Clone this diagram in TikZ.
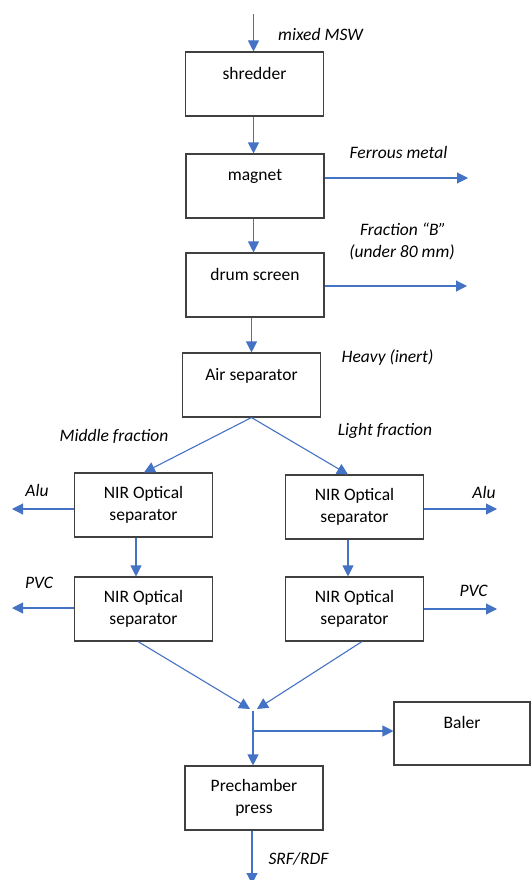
\documentclass[tikz,border=0pt]{standalone}
\usepackage{fontspec}
\setmainfont{Carlito}
\usetikzlibrary{arrows.meta}
\definecolor{flowblue}{HTML}{4472C4}
\definecolor{boxgray}{HTML}{404040}
\begin{document}
\begin{tikzpicture}[x=1pt,y=-1pt,
  box/.style={draw=boxgray,line width=1.1pt,minimum width=138pt,minimum height=64pt,
    inner sep=0pt,align=center,font=\fontsize{17.5}{22}\selectfont},
  lbl/.style={inner sep=0pt,font=\fontsize{17.5}{22}\selectfont\itshape},
  flow/.style={draw=flowblue,line width=1.1pt,-{Triangle[length=11pt,width=11pt]}},
  line/.style={draw=flowblue,line width=1.1pt}]
\useasboundingbox (0,0) rectangle (530,880);
% boxes
\node[box] (shred) at (254.5,84) {shredder\\~};
\node[box] (magnet) at (255,186) {magnet\\~};
\node[box] (drum) at (255,285) {drum screen\\~};
\node[box] (air) at (251.5,385) {Air separator\\~};
\node[box] (nirL1) at (143.5,505) {NIR Optical\\separator};
\node[box] (nirR1) at (354.5,507) {NIR Optical\\separator};
\node[box] (nirL2) at (143.5,609) {NIR Optical\\separator};
\node[box] (nirR2) at (354.5,609) {NIR Optical\\separator};
\node[box,minimum width=136pt,minimum height=63pt] (baler) at (462,733.5) {Baler\\~};
\node[box] (press) at (254,798) {Prechamber\\press};
% free ends
\coordinate (in) at (253.5,14);
\coordinate (ferr) at (468,178);
\coordinate (fracB) at (467,286);
\coordinate (aluL) at (12,509);
\coordinate (aluR) at (497,509);
\coordinate (pvcL) at (12,608);
\coordinate (pvcR) at (497,609);
\coordinate (mL) at (250,709);
\coordinate (mR) at (257,709);
\coordinate (junc) at (253,711);
\coordinate (branch) at (253,731);
\coordinate (out) at (252,884);
% connectors
\draw[flow] (in) -- (in |- shred.north);
\draw[flow] (in |- shred.south) -- (in |- magnet.north);
\draw[flow] (magnet.east |- ferr) -- (ferr);
\draw[flow] (in |- magnet.south) -- (in |- drum.north);
\draw[flow] (drum.east |- fracB) -- (fracB);
\draw[flow] (air.north |- drum.south) -- (air.north);
\draw[flow] (air.south) -- ([xshift=0.5pt]nirL1.north);
\draw[flow] (air.south) -- ([xshift=-6.5pt]nirR1.north);
\draw[flow] (nirL1.west |- aluL) -- (aluL);
\draw[flow] (nirR1.east |- aluR) -- (aluR);
\draw[flow] ([xshift=-7.5pt]nirL1.south) -- ([xshift=-7.5pt]nirL2.north);
\draw[flow] ([xshift=-6.5pt]nirR1.south) -- ([xshift=-6.5pt]nirR2.north);
\draw[flow] (nirL2.west |- pvcL) -- (pvcL);
\draw[flow] (nirR2.east |- pvcR) -- (pvcR);
\draw[flow] ([xshift=-5.5pt]nirL2.south) -- (mL);
\draw[flow] ([xshift=7.5pt]nirR2.south) -- (mR);
\draw[flow] (junc) -- (junc |- press.north);
\draw[flow] (branch) -- (baler.west |- branch);
\draw[flow] (press.south -| out) -- (out);
% labels
\node[lbl] (lMSW) at (320.5,34) {mixed MSW};
\node[lbl] (lFe) at (398.5,152) {Ferrous metal};
\node[lbl] (lB1) at (403,229) {Fraction “B”};
\node[lbl] (lB2) at (402,252) {(under 80 mm)};
\node[lbl] (lHeavy) at (387.5,358) {Heavy (inert)};
\node[lbl] (lMid) at (114,436) {Middle fraction};
\node[lbl] (lLight) at (385,431) {Light fraction};
\node[lbl] (lAluL) at (37,490) {Alu};
\node[lbl] (lAluR) at (484,492) {Alu};
\node[lbl] (lPvcL) at (39,583) {PVC};
\node[lbl] (lPvcR) at (473.5,591) {PVC};
\node[lbl] (lSRF) at (298.5,859) {SRF/RDF};
\end{tikzpicture}
\end{document}
